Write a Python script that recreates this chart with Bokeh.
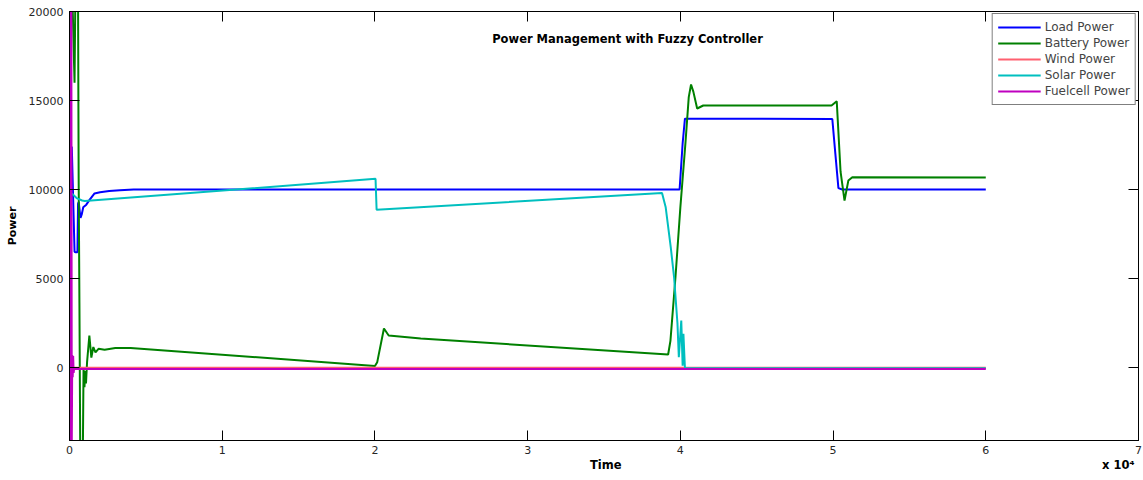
from bokeh.plotting import figure
from bokeh.models import Range1d, FixedTicker, LinearAxis, Label
from bokeh.embed import file_html
from bokeh.resources import INLINE

# ---------------- data (time in s, power in W) ----------------
load_t = [0, 150, 330, 380, 520, 560, 600, 720, 800, 900, 1100, 1300, 1640, 2000, 2600,
          3300, 4200, 39950, 40150, 40300, 49950, 50150, 50350, 50600, 60000]
load_p = [12300, 12400, 6500, 6480, 6480, 9200, 9300, 8400, 8600, 9000, 9150, 9400, 9780, 9850, 9920,
          9960, 10000, 10000, 12600, 13980, 13960, 12000, 10080, 10000, 10000]

batt_t = [0, 60, 200, 300, 330, 380, 430, 560, 600, 650, 700, 880, 920, 980, 1030, 1080, 1150,
          1300, 1430, 1560, 1700, 1900, 2300, 3000, 4000, 20000, 20150, 20590, 20900, 23000,
          39200, 39350, 39680, 40000, 40330, 40550, 40700, 40850, 41100, 41500, 49900, 50240,
          50490, 50750, 51000, 51260, 60000]
batt_p = [7500, 20500, 20500, 17000, 16000, 20500, 20500, 20500, 10600, 3600, -4200, -4200, 0,
          -1100, -200, -900, 300, 1800, 560, 1150, 850, 1050, 1000, 1100, 1100, 80, 300, 2190,
          1800, 1630, 730, 1500, 5070, 9000, 12580, 15190, 15900, 15500, 14550, 14720, 14720,
          14960, 11000, 9380, 10500, 10690, 10680]

wind_t = [0, 60000]
wind_p = [-20, -20]

solar_t = [0, 170, 500, 830, 1000, 20040, 20110, 38800, 39040, 39370, 39590, 39810, 39900,
           40060, 40150, 40200, 40300, 60000]
solar_p = [9800, 9760, 9500, 9380, 9350, 10600, 8860, 9800, 9000, 6760, 5070, 2470, 580,
           2640, 100, 1900, -40, -40]

fuel_t = [0, 30, 60, 90, 120, 150, 180, 210, 240, 270, 300, 60000]
fuel_p = [20500, -4200, 20500, -4200, 20500, -4200, 700, -550, 650, -300, -90, -90]

x_ticks = [0, 10000, 20000, 30000, 40000, 50000, 60000, 70000]
x_tick_labels = ["0", "1", "2", "3", "4", "5", "6", "7"]
y_ticks = [0, 5000, 10000, 15000, 20000]
y_tick_labels = ["0", "5000", "10000", "15000", "20000"]

FONT = "DejaVu Sans"
NB = "\u00a0"

p = figure(width=1143, height=480,
           x_range=Range1d(0, 70000), y_range=Range1d(-4100, 20000),
           output_backend="svg", toolbar_location=None,
           min_border_left=69, min_border_right=5, min_border_top=11, min_border_bottom=40)
p.background_fill_color = "white"
p.border_fill_color = "white"
p.outline_line_color = "black"
p.outline_line_width = 1
p.xgrid.visible = False
p.ygrid.visible = False

def style_axis(ax, ticks, labels, show_labels=True):
    ax.ticker = FixedTicker(ticks=ticks)
    ax.major_label_overrides = {t: l for t, l in zip(ticks, labels)}
    ax.minor_tick_line_color = None
    ax.major_tick_in = 10
    ax.major_tick_out = 0
    ax.major_tick_line_color = "black"
    ax.axis_line_color = "black"
    ax.major_label_text_font = FONT
    ax.major_label_text_color = "#262626"
    if show_labels:
        ax.major_label_text_font_size = "11px"
    else:
        ax.major_label_text_font_size = "0px"
        ax.major_label_standoff = 0

# bottom axis: "Time" centred, "x 10⁴" pushed to the right end with no-break spaces
style_axis(p.xaxis[0], x_ticks, x_tick_labels)
p.xaxis[0].major_label_standoff = 5
p.xaxis[0].axis_label = NB * 129 + "Time" + NB * 120 + "x 10\u2074"
p.xaxis[0].axis_label_text_font = FONT
p.xaxis[0].axis_label_text_font_style = "bold"
p.xaxis[0].axis_label_text_font_size = "11.5px"
p.xaxis[0].axis_label_text_color = "black"
p.xaxis[0].axis_label_standoff = 1

style_axis(p.yaxis[0], y_ticks, y_tick_labels)
p.yaxis[0].major_label_standoff = 6
p.yaxis[0].axis_label = "Power"
p.yaxis[0].axis_label_text_font = FONT
p.yaxis[0].axis_label_text_font_style = "bold"
p.yaxis[0].axis_label_text_font_size = "11px"
p.yaxis[0].axis_label_text_color = "black"
p.yaxis[0].axis_label_standoff = 7

top_ax = LinearAxis()
style_axis(top_ax, x_ticks, ["" for _ in x_ticks], show_labels=False)
p.add_layout(top_ax, "above")
right_ax = LinearAxis()
style_axis(right_ax, y_ticks, ["" for _ in y_ticks], show_labels=False)
p.add_layout(right_ax, "right")

LW = 2
p.line(load_t, load_p, line_color="#0000FF", line_width=LW, legend_label="Load Power")
p.line(batt_t, batt_p, line_color="#008000", line_width=LW, legend_label="Battery Power")
p.line(wind_t, wind_p, line_color="#FF6070", line_width=LW, legend_label="Wind Power")
p.line(solar_t, solar_p, line_color="#00BFBF", line_width=LW, legend_label="Solar Power")
p.line(fuel_t, fuel_p, line_color="#BF00BF", line_width=LW, legend_label="Fuelcell Power")

lg = p.legend[0]
lg.location = "top_right"
lg.margin = 2
lg.padding = 5
lg.spacing = 0
lg.label_height = 16
lg.glyph_height = 16
lg.glyph_width = 43
lg.label_standoff = 4
lg.label_text_font = FONT
lg.label_text_font_size = "12px"
lg.border_line_color = "black"
lg.border_line_width = 1
lg.background_fill_color = "white"
lg.background_fill_alpha = 1.0

p.add_layout(Label(x=36540, y=18483, text="Power Management with Fuzzy Controller",
                   text_font=FONT, text_font_style="bold", text_font_size="11.5px",
                   text_align="center", text_baseline="middle", text_color="black"))

open("out.html", "w").write(file_html(p, INLINE))
